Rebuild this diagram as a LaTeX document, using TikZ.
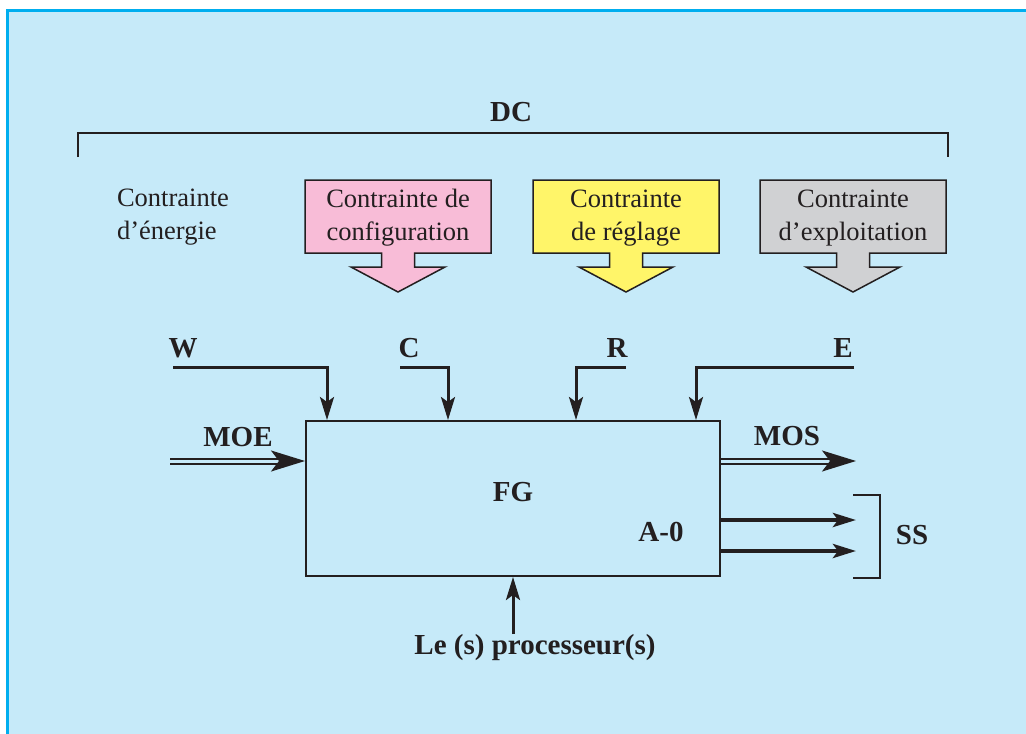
\documentclass[tikz,border=0pt]{standalone}
\usepackage{fontspec}
\setmainfont{Liberation Serif}
\usetikzlibrary{arrows.meta,calc}
\definecolor{panelbg}{RGB}{198,234,249}
\definecolor{panelline}{RGB}{0,174,239}
\definecolor{cpink}{RGB}{248,188,215}
\definecolor{cyellow}{RGB}{255,245,105}
\definecolor{cgray}{RGB}{208,209,211}
\definecolor{ink}{RGB}{35,31,32}
\tikzset{
  reg/.style={font=\fontsize{26.5}{33}\selectfont, text=ink, inner sep=0pt},
  lbl/.style={font=\fontsize{29}{34}\selectfont\bfseries, text=ink, inner sep=0pt},
  fbox/.style={draw=ink, line width=2pt, minimum width=414pt, minimum height=155pt, inner sep=0pt},
  ctrl/.style={draw=ink, line width=3pt, -{Stealth[length=23pt,width=14pt,inset=5pt]}},
  sub/.style={draw=ink, line width=4pt, -{Stealth[length=23pt,width=14pt,inset=5pt]}},
  flow/.style={draw=ink, line width=2pt, double=panelbg, double distance=3pt,
    -{Stealth[length=34pt,width=21pt,inset=8pt]}},
  brk/.style={draw=ink, line width=2.2pt},
  cshape/.style={draw=ink, line width=1.5pt},
}
\newcommand{\cbox}[4]{%
  \path[cshape, fill=#3] (#2-93,180) -- (#2+93,180) -- (#2+93,253) -- (#2+16.5,253)
    -- (#2+16.5,267) -- (#2+47,267) -- (#2,292) -- (#2-47,267) -- (#2-16.5,267)
    -- (#2-16.5,253) -- (#2-93,253) -- cycle;
  \node[reg, align=center] (#1) at (#2,218) {#4};
}
\begin{document}
\begin{tikzpicture}[x=1pt,y=-1pt]
\useasboundingbox (0,0) rectangle (1026,734);
\fill[white] (0,0) rectangle (1026,734);
\fill[panelbg] (7,10) rectangle (1026,734);
\draw[panelline, line width=3pt] (7.5,734) -- (7.5,10.5) -- (1026,10.5);

% DC bracket
\draw[brk] (78,157) |- (948,133) -- (948,157);
\node[lbl] (dc) at (511,112) {DC};

% constraints
\node[reg, align=left] (energie) at (173,217) {Contrainte\\d’énergie};
\cbox{config}{398}{cpink}{Contrainte de\\configuration}
\cbox{reglage}{626}{cyellow}{Contrainte\\de réglage}
\cbox{exploit}{853}{cgray}{Contrainte\\d’exploitation}

% main function box
\node[fbox] (fg) at (513,498.5) {};
\node[lbl] (fgl) at (513,492) {FG};
\node[lbl] (a0) at (661,532) {A-0};

% control inputs
\node[lbl] (wl) at (183,348) {W};
\node[lbl] (cl) at (409,348) {C};
\node[lbl] (rl) at (617,348) {R};
\node[lbl] (el) at (843,348) {E};
\coordinate (w0) at (173,367);
\coordinate (c0) at (400,367);
\coordinate (r0) at (626,367);
\coordinate (e0) at (854,367);
\draw[ctrl] (w0) -| ([xshift=22pt]fg.north west);
\draw[ctrl] (c0) -| ([xshift=143pt]fg.north west);
\draw[ctrl] (r0) -| ([xshift=271pt]fg.north west);
\draw[ctrl] (e0) -| ([xshift=391pt]fg.north west);

% MOE / MOS
\node[lbl] (moe) at (238,437) {MOE};
\coordinate (moe0) at (170,461);
\draw[flow] (moe0) -- ([yshift=37.5pt]fg.west);
\node[lbl] (mos) at (787,436) {MOS};
\coordinate (mos1) at (856,461);
\draw[flow] ([yshift=37.5pt]fg.east) -- (mos1);

% SS
\coordinate (ss1) at (856,520);
\coordinate (ss2) at (856,551);
\draw[sub] ([yshift=-21.5pt]fg.east) -- (ss1);
\draw[sub] ([yshift=-52.5pt]fg.east) -- (ss2);
\draw[brk] (853,495) -| (880,578) -- (853,578);
\node[lbl] (ss) at (912,535) {SS};

% processor
\coordinate (p0) at (513,634);
\draw[ctrl] (p0) -- (fg.south);
\node[lbl] (proc) at (535,648) {Le (s) processeur(s)};
\end{tikzpicture}
\end{document}
